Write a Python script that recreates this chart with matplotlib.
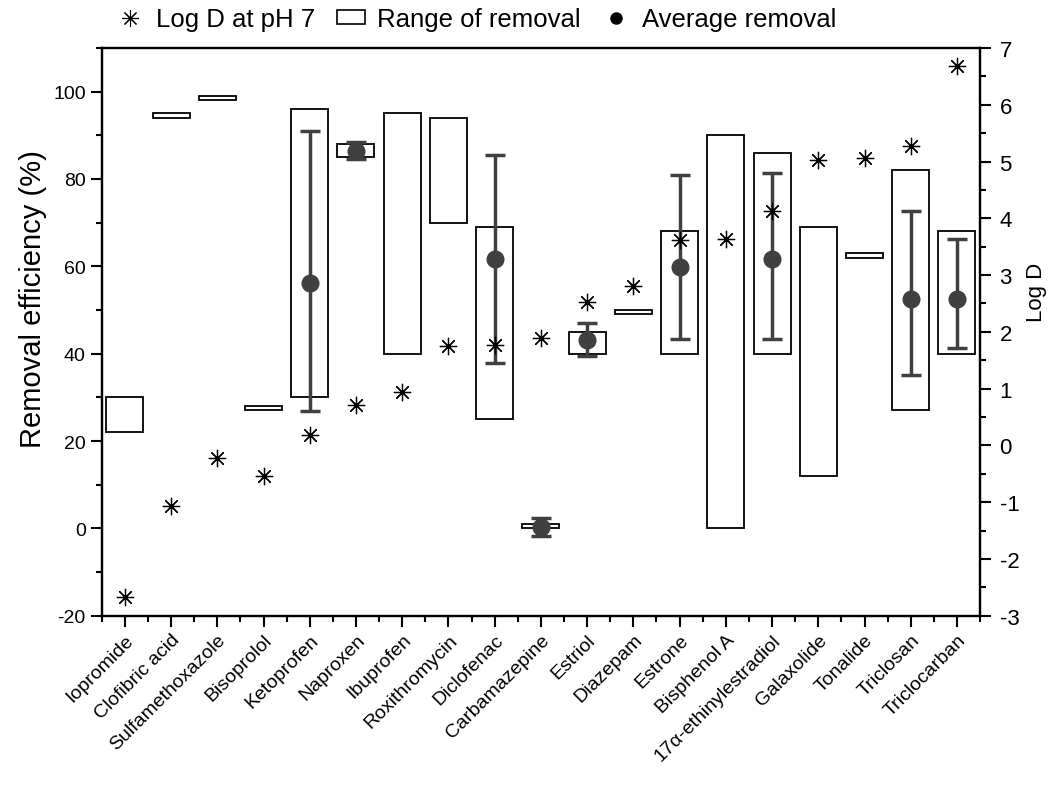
import numpy as np
import matplotlib
matplotlib.use("Agg")
import matplotlib.pyplot as plt
from matplotlib.patches import Patch
from matplotlib.lines import Line2D
from matplotlib.ticker import MultipleLocator

plt.rcParams['font.family'] = ['Liberation Sans', 'DejaVu Sans']
plt.rcParams['axes.unicode_minus'] = False

# Data
compounds = ['Iopromide', 'Clofibric acid', 'Sulfamethoxazole', 'Bisoprolol', 'Ketoprofen',
             'Naproxen', 'Ibuprofen', 'Roxithromycin', 'Diclofenac', 'Carbamazepine',
             'Estriol', 'Diazepam', 'Estrone', 'Bisphenol A', '17α-ethinylestradiol',
             'Galaxolide', 'Tonalide', 'Triclosan', 'Triclocarban']

# range of removal (%)
range_low = [22, 94, 98, 27, 30, 85, 40, 70, 25, 0, 40, 49, 40, 0, 40, 12, 62, 27, 40]
range_high = [30, 95, 99, 28, 96, 88, 95, 94, 69, 1, 45, 50, 68, 90, 86, 69, 63, 82, 68]

# average removal with error bar ends (only where reported)
avg_names = ['Ketoprofen', 'Naproxen', 'Diclofenac', 'Carbamazepine', 'Estriol',
             'Estrone', '17α-ethinylestradiol', 'Triclosan', 'Triclocarban']
avg_mean = [56.2, 86.5, 61.6, 0.3, 43.2, 59.8, 61.6, 52.6, 52.6]
avg_lo = [26.9, 84.5, 37.9, -1.8, 39.5, 43.3, 43.3, 35.1, 41.4]
avg_hi = [91.0, 88.5, 85.4, 2.4, 47.0, 81.0, 81.3, 72.6, 66.2]

# Log D at pH 7
log_d = [-2.67, -1.06, -0.22, -0.54, 0.19, 0.72, 0.94, 1.75, 1.77, 1.89,
         2.52, 2.80, 3.62, 3.64, 4.12, 5.03, 5.07, 5.28, 6.69]

x = np.arange(1, len(compounds) + 1)
asterisk = (8, 2, 0)
grey = '#404040'

fig = plt.figure(figsize=(10.63, 8.03), dpi=100)
ax = fig.add_axes([0.0957, 0.232, 0.8263, 0.707])

low = np.array(range_low, dtype=float)
high = np.array(range_high, dtype=float)
ax.bar(x, high - low, bottom=low, width=0.8, facecolor='white', edgecolor='black',
       linewidth=1.3, zorder=2)

xa = np.array([compounds.index(n) + 1 for n in avg_names])
mean = np.array(avg_mean)
yerr = [mean - np.array(avg_lo), np.array(avg_hi) - mean]
ax.errorbar(xa, mean, yerr=yerr, fmt='o', color=grey, ms=12, elinewidth=2.5,
            capsize=7, capthick=2.5, zorder=3)

ax.set_xlim(0.5, 19.5)
ax.set_ylim(-20, 110)
ax.set_xticks(x)
ax.set_xticklabels(compounds, rotation=45, ha='right', rotation_mode='anchor', fontsize=14)
ax.xaxis.set_minor_locator(MultipleLocator(0.5))
ax.yaxis.set_major_locator(MultipleLocator(20))
ax.yaxis.set_minor_locator(MultipleLocator(10))
ax.set_ylabel('Removal efficiency (%)', fontsize=21)
ax.yaxis.set_label_coords(-0.062, 0.56)
ax.tick_params(axis='both', which='major', direction='out', length=8, width=1.5, labelsize=14)
ax.tick_params(axis='both', which='minor', direction='out', length=4, width=1.5)
ax.tick_params(axis='x', which='major', pad=3)
for s in ax.spines.values():
    s.set_linewidth(1.6)

ax2 = ax.twinx()
ax2.plot(x, log_d, linestyle='none', marker=asterisk, ms=12.5, mec='black', mfc='black', mew=0.9,
         zorder=4)
ax2.set_ylim(-3, 7)
ax2.yaxis.set_major_locator(MultipleLocator(1))
ax2.yaxis.set_minor_locator(MultipleLocator(0.5))
ax2.set_ylabel('Log D', fontsize=16)
ax2.yaxis.set_label_coords(1.052, 0.572)
ax2.tick_params(axis='y', which='major', direction='out', length=8, width=1.5, labelsize=16, pad=6)
ax2.tick_params(axis='y', which='minor', direction='out', length=4, width=1.5)
for s in ax2.spines.values():
    s.set_linewidth(1.6)

handles = [
    Line2D([], [], linestyle='none', marker=asterisk, ms=12, mec='black', mew=0.8),
    Patch(facecolor='white', edgecolor='black', linewidth=1.2),
    Line2D([], [], linestyle='none', marker='o', ms=8, color='black'),
]
labels = ['Log D at pH 7', 'Range of removal', 'Average removal']
fig.legend(handles, labels, loc='upper left', bbox_to_anchor=(116 / 1063, 1 - 8 / 803), ncol=3,
           frameon=False, fontsize=18.5, handlelength=1.1, columnspacing=0.85, handletextpad=0.45,
           borderpad=0, borderaxespad=0, handleheight=0.5)

fig.savefig('out.png', dpi=100)
